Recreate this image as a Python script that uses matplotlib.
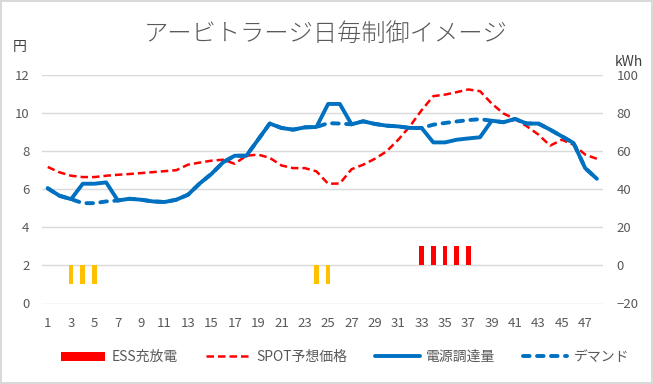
import matplotlib
matplotlib.use("Agg")
import matplotlib.pyplot as plt
from matplotlib.patches import Patch
from matplotlib.lines import Line2D
import numpy as np

plt.rcParams['font.family'] = ['Noto Sans CJK JP', 'DejaVu Sans']

# Datos (48 franjas de media hora)
franjas = list(range(1, 49))

# SPOT予想価格 (円)
precio_spot = [7.17, 6.89, 6.71, 6.64, 6.64, 6.71, 6.76, 6.80, 6.85, 6.90,
               6.95, 7.00, 7.29, 7.40, 7.50, 7.55, 7.34, 7.76, 7.82, 7.65,
               7.25, 7.11, 7.11, 6.94, 6.29, 6.30, 7.05, 7.29, 7.60, 7.99,
               8.60, 9.31, 10.15, 10.89, 10.97, 11.10, 11.24, 11.15, 10.50, 9.98,
               9.69, 9.31, 8.87, 8.29, 8.60, 8.34, 7.82, 7.60]

# 電源調達量 (kWh)
adquisicion = [40.5, 36.6, 34.8, 42.9, 42.9, 43.6, 34.1, 35.0, 34.5, 33.6,
               33.3, 34.5, 37.1, 43.0, 48.0, 54.1, 57.6, 57.6, 66.0, 74.5,
               72.2, 71.3, 72.5, 72.7, 84.8, 84.8, 74.1, 75.7, 74.3, 73.4,
               73.0, 72.2, 72.2, 64.6, 64.6, 66.0, 66.7, 67.3, 76.0, 75.2,
               76.9, 74.5, 74.5, 71.3, 67.8, 64.3, 51.1, 45.5]

# デマンド (kWh)
demanda = [40.5, 36.6, 34.8, 32.7, 32.7, 33.6, 34.1, 35.0, 34.5, 33.6,
           33.3, 34.5, 37.1, 43.0, 48.0, 54.1, 57.6, 57.6, 66.0, 74.5,
           72.2, 71.3, 72.5, 72.7, 74.7, 74.5, 74.1, 75.7, 74.3, 73.4,
           73.0, 72.2, 72.2, 73.9, 74.8, 75.6, 76.3, 76.8, 76.0, 75.2,
           76.9, 74.5, 74.5, 71.3, 67.8, 64.3, 51.1, 45.5]

# ESS充放電 (kWh): negativo = carga, positivo = descarga
ess = [0, 0, -10, -10, -10, 0, 0, 0, 0, 0,
       0, 0, 0, 0, 0, 0, 0, 0, 0, 0,
       0, 0, 0, -10, -10, 0, 0, 0, 0, 0,
       0, 0, 10, 10, 10, 10, 10, 0, 0, 0,
       0, 0, 0, 0, 0, 0, 0, 0]

etiquetas_x = [str(f) if f % 2 == 1 else "" for f in franjas]

GRIS = '#595959'
AZUL = '#0070C0'
ROJO = '#FF0000'
AMARILLO = '#FFC000'

fig = plt.figure(figsize=(6.53, 3.84), dpi=100, linewidth=1.5, edgecolor='#D9D9D9')
ax = fig.add_axes([41.9 / 653, 1 - 303.5 / 384, (602.7 - 41.9) / 653, (303.5 - 75) / 384])
ax2 = ax.twinx()

x = np.arange(len(franjas))

# Eje izquierdo: precio
ax.set_ylim(0, 12)
ax.set_yticks(np.arange(0, 13, 2))
ax.set_xlim(-0.5, len(franjas) - 0.5)
ax.set_xticks(x)
ax.set_xticklabels(etiquetas_x)
ax.grid(axis='y', color='#D9D9D9', lw=1)
ax.set_axisbelow(True)
ax.plot(x, precio_spot, color=ROJO, lw=1.8, dashes=(3, 1.6), zorder=3)

# Eje derecho: kWh
ax2.set_ylim(-20, 100)
ax2.set_yticks(np.arange(-20, 101, 20))
colores_ess = [ROJO if v > 0 else AMARILLO for v in ess]
ax2.bar(x, ess, width=0.4, color=colores_ess, zorder=2)
ax2.plot(x, demanda, color=AZUL, lw=2.8, dashes=(1.7, 1.9), dash_capstyle='round', zorder=3)
ax2.plot(x, adquisicion, color=AZUL, lw=2.8, solid_capstyle='round', zorder=4)

for a in (ax, ax2):
    for s in a.spines.values():
        s.set_visible(False)
    a.tick_params(length=0, labelsize=9.5, labelcolor=GRIS)
ax.tick_params(axis='y', pad=9)
ax.tick_params(axis='x', pad=10)
ax2.tick_params(axis='y', pad=10)

fig.text(326 / 653, 1 - 34 / 384, "アービトラージ日毎制御イメージ", ha='center', va='center',
         fontsize=17.5, color=GRIS, fontweight='light')
fig.text(20 / 653, 1 - 47 / 384, "円", ha='center', va='center', fontsize=10, color='#404040')
fig.text(629 / 653, 1 - 62 / 384, "kWh", ha='center', va='center', fontsize=10, color='#404040')

handles = [
    Patch(facecolor=ROJO, edgecolor='none', label='ESS充放電'),
    Line2D([], [], color=ROJO, lw=1.8, dashes=(3, 1.6), label='SPOT予想価格'),
    Line2D([], [], color=AZUL, lw=2.8, solid_capstyle='round', label='電源調達量'),
    Line2D([], [], color=AZUL, lw=2.8, dashes=(1.7, 1.9), dash_capstyle='round', label='デマンド'),
]
leg = fig.legend(handles=handles, loc='center', bbox_to_anchor=(345 / 653, 1 - 357 / 384),
                 ncol=4, frameon=False, fontsize=10, handlelength=3.2, handleheight=0.6,
                 columnspacing=2.0, handletextpad=0.45)
for t in leg.get_texts():
    t.set_color(GRIS)

fig.savefig('out.png', dpi=100, edgecolor=fig.get_edgecolor(), facecolor='white')
